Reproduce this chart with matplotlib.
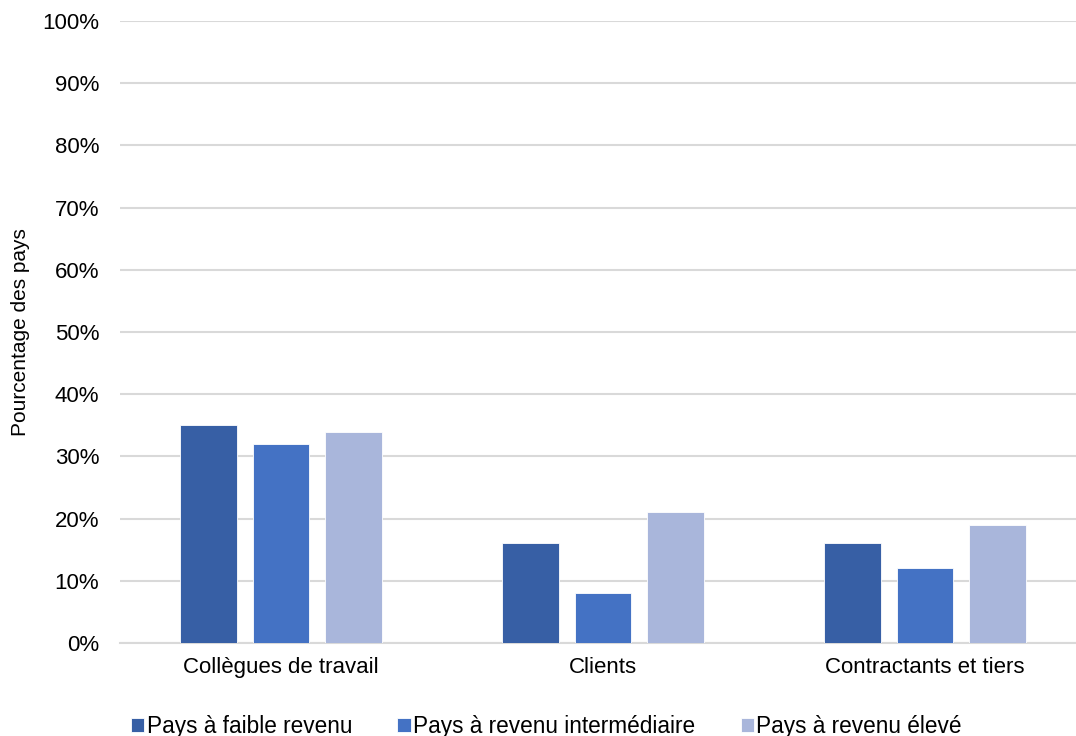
import matplotlib
matplotlib.use("Agg")
import matplotlib.pyplot as plt
import numpy as np
from matplotlib.ticker import PercentFormatter

plt.rcParams["font.family"] = ["Liberation Sans", "DejaVu Sans"]

categories = ["Collègues de travail", "Clients", "Contractants et tiers"]
series_names = ["Pays à faible revenu", "Pays à revenu intermédiaire", "Pays à revenu élevé"]
faible = [35, 16, 16]
intermediaire = [32, 8, 12]
eleve = [34, 21, 19]
colors = ["#375FA5", "#4472C4", "#A9B6DB"]

fig = plt.figure(figsize=(10.76, 7.36), dpi=100)
ax = fig.add_axes([120 / 1076, 1 - 643 / 736, 956 / 1076, (643 - 21) / 736])

x = np.arange(len(categories))
w, off = 0.177, 0.224
for i, (vals, name, c) in enumerate(zip([faible, intermediaire, eleve], series_names, colors)):
    ax.bar(x + (i - 1) * off, vals, w, color=c, label=name,
           edgecolor="white", linewidth=0.6, zorder=3)

ax.set_xlim(-0.5, -0.5 + 956 / 322)
ax.set_ylim(0, 100)
ax.set_yticks(range(0, 101, 10))
ax.yaxis.set_major_formatter(PercentFormatter(decimals=0))
ax.set_xticks(x)
ax.set_xticklabels(categories)
ax.grid(axis="y", color="#D9D9D9", linewidth=1.5, zorder=0)
for s in ["top", "right", "left"]:
    ax.spines[s].set_visible(False)
ax.spines["bottom"].set_color("#D9D9D9")
ax.spines["bottom"].set_linewidth(1.5)
ax.tick_params(axis="both", length=0, labelsize=16, colors="#000000")
ax.tick_params(axis="x", pad=10)
ax.tick_params(axis="y", pad=15)
ax.set_ylabel("Pourcentage des pays", fontsize=15)
ax.yaxis.set_label_coords(-90 / 956, 0.5)

ax.legend(loc="center", bbox_to_anchor=(0.446, -0.134),
          ncol=3, frameon=False, fontsize=16.3, handlelength=0.6, handleheight=0.6,
          handletextpad=0.1, columnspacing=2.0)

fig.savefig("out.png", dpi=100)
